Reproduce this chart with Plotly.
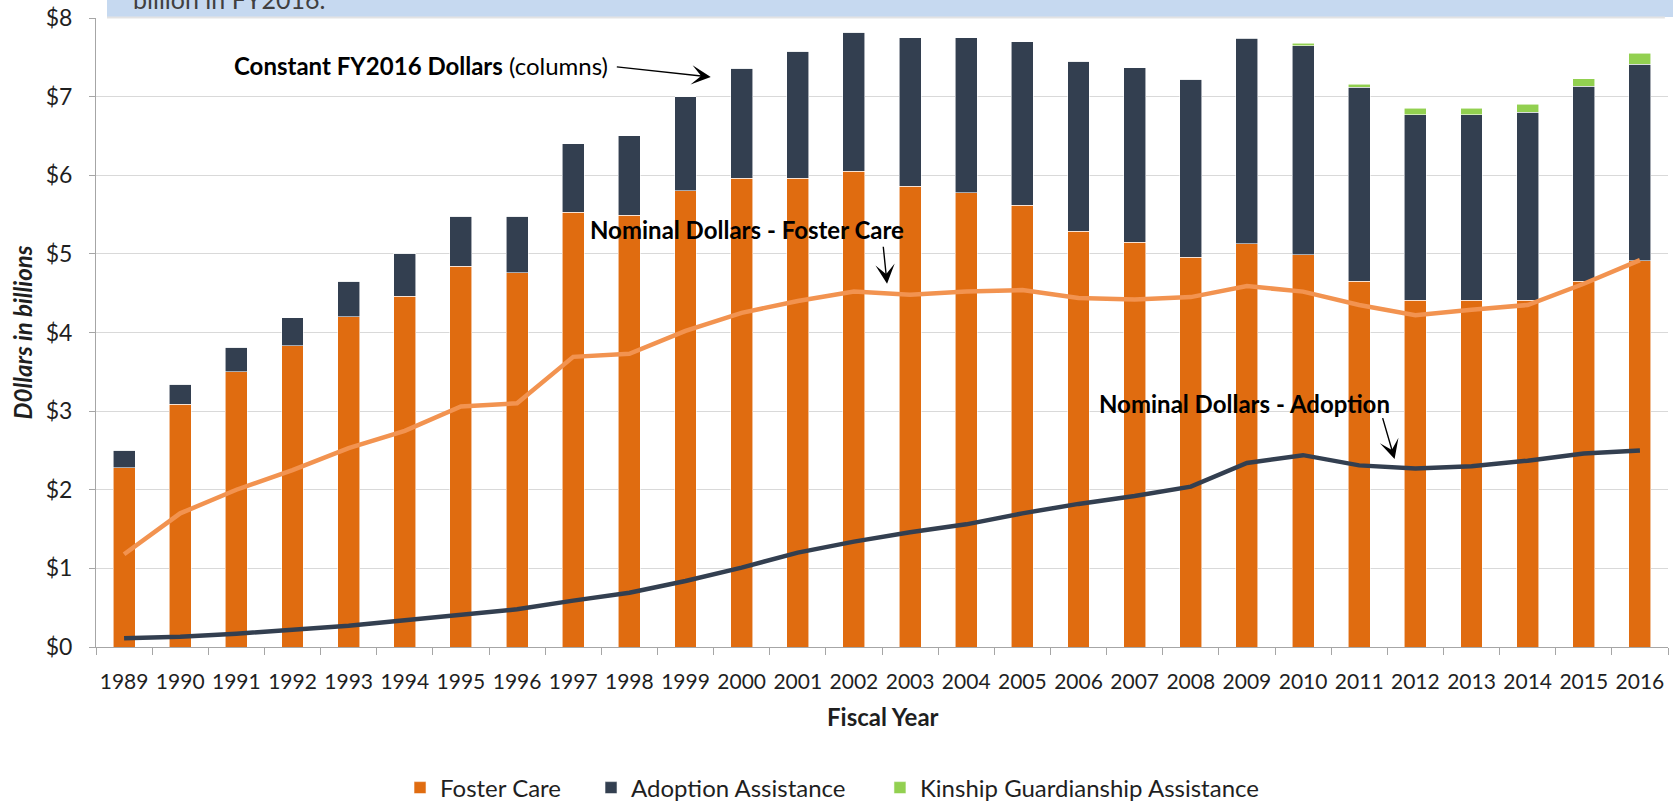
import plotly.graph_objects as go

years = list(range(1989, 2017))
year_labels = [str(y) for y in years]

foster_care = [2.28, 3.09, 3.50, 3.83, 4.20, 4.46, 4.84, 4.76, 5.53, 5.49,
               5.80, 5.96, 5.96, 6.05, 5.86, 5.78, 5.62, 5.29, 5.15, 4.96,
               5.13, 4.99, 4.65, 4.41, 4.41, 4.41, 4.65, 4.91]
adoption_assistance = [0.22, 0.25, 0.31, 0.36, 0.45, 0.55, 0.64, 0.72, 0.87, 1.01,
                       1.20, 1.40, 1.62, 1.77, 1.89, 1.97, 2.08, 2.16, 2.22, 2.26,
                       2.61, 2.66, 2.47, 2.36, 2.36, 2.39, 2.48, 2.50]
kinship_guardianship = [0, 0, 0, 0, 0, 0, 0, 0, 0, 0,
                        0, 0, 0, 0, 0, 0, 0, 0, 0, 0,
                        0.01, 0.03, 0.04, 0.08, 0.08, 0.10, 0.10, 0.14]
nominal_foster_care = [1.18, 1.70, 2.00, 2.25, 2.53, 2.75, 3.06, 3.10, 3.69, 3.73,
                       4.02, 4.25, 4.40, 4.52, 4.48, 4.52, 4.54, 4.44, 4.42, 4.45,
                       4.59, 4.52, 4.35, 4.22, 4.29, 4.35, 4.62, 4.92]
nominal_adoption = [0.11, 0.13, 0.17, 0.22, 0.27, 0.34, 0.41, 0.48, 0.59, 0.69,
                    0.84, 1.01, 1.20, 1.34, 1.46, 1.56, 1.70, 1.82, 1.92, 2.04,
                    2.34, 2.44, 2.31, 2.27, 2.30, 2.37, 2.46, 2.50]
y_ticks = [0, 1, 2, 3, 4, 5, 6, 7, 8]

ORANGE = "#E06C10"
NAVY = "#333F50"
GREEN = "#92D050"
LIGHT_ORANGE = "#F29350"
TEXT = "#1F1F1F"
FONT = "Lato"

fig = go.Figure()
bar_line = dict(color="rgba(255,255,255,0.7)", width=0.8)
fig.add_trace(go.Bar(x=years, y=foster_care, name="Foster Care", legend="legend",
                     marker=dict(color=ORANGE, line=bar_line)))
fig.add_trace(go.Bar(x=years, y=adoption_assistance, name="Adoption Assistance", legend="legend2",
                     marker=dict(color=NAVY, line=bar_line)))
fig.add_trace(go.Bar(x=years, y=kinship_guardianship, name="Kinship Guardianship Assistance",
                     legend="legend3", marker=dict(color=GREEN, line=bar_line)))
fig.add_trace(go.Scatter(x=years, y=nominal_foster_care, mode="lines",
                         line=dict(color=LIGHT_ORANGE, width=4.5), showlegend=False))
fig.add_trace(go.Scatter(x=years, y=nominal_adoption, mode="lines",
                         line=dict(color=NAVY, width=4.5), showlegend=False))

leg_common = dict(orientation="h", y=-0.2242, yanchor="middle", xanchor="left",
                  font=dict(size=24, family=FONT, color=TEXT), bgcolor="rgba(0,0,0,0)",
                  itemwidth=30)
fig.update_layout(
    barmode="stack",
    bargap=0.61,
    width=1673, height=801,
    margin=dict(l=96, r=5, t=18, b=154, autoexpand=False),
    paper_bgcolor="white", plot_bgcolor="white",
    font=dict(family=FONT, color=TEXT),
    legend=dict(x=0.1934, **leg_common),
    legend2=dict(x=0.3149, **leg_common),
    legend3=dict(x=0.4987, **leg_common),
)

fig.update_xaxes(
    automargin=False,
    range=[1988.5, 2016.5],
    tickmode="array", tickvals=years, ticktext=year_labels,
    ticks="outside", ticklen=16, tickcolor="rgba(0,0,0,0)",
    tickfont=dict(size=21, family=FONT, color=TEXT),
    showline=True, linecolor="#A6A6A6", linewidth=1,
    showgrid=False, zeroline=False,
    minor=dict(tickvals=[y - 0.5 for y in years] + [2016.5], ticks="outside",
               ticklen=7, tickcolor="#A6A6A6", showgrid=False),
)
fig.update_yaxes(
    automargin=False,
    range=[0, 8],
    tickmode="array", tickvals=y_ticks, ticktext=["$%d" % v for v in y_ticks],
    ticks="outside", ticklen=6, tickcolor="#A6A6A6", ticklabelstandoff=12,
    tickfont=dict(size=23, family=FONT, color=TEXT),
    showline=True, linecolor="#A6A6A6", linewidth=1,
    showgrid=True, gridcolor="#D9D9D9", gridwidth=1, zeroline=False,
)

# axis titles
fig.add_annotation(xref="paper", yref="paper", x=-0.0465, y=0.5, textangle=-90,
                   xanchor="center", yanchor="middle", showarrow=False,
                   text="<b><i>D0llars in billions</i></b>",
                   font=dict(size=24, family=FONT, color=TEXT))
fig.add_annotation(xref="paper", yref="paper", x=0.5006, y=-0.1097,
                   xanchor="center", yanchor="middle", showarrow=False,
                   text="<b>Fiscal Year</b>", font=dict(size=24, family=FONT, color=TEXT))

# top info box (cut off)
fig.add_shape(type="rect", xref="paper", yref="paper",
              x0=0.007, x1=1.01, y0=1.0016, y1=1.05,
              fillcolor="#C6D9F0", line=dict(width=0), layer="above")
fig.add_shape(type="line", xref="paper", yref="paper",
              x0=0.007, x1=0.998, y0=1.0006, y1=1.0006,
              line=dict(color="#E3E3E3", width=2), layer="above")
fig.add_annotation(xref="paper", yref="paper", x=0.022, y=1.0302,
                   xanchor="left", yanchor="middle", showarrow=False,
                   text="billion in FY2016.", font=dict(size=25, family=FONT, color="#404040"))

# annotations
ANN_FONT = dict(size=24, family=FONT, color="black")
ARROW = dict(text="", showarrow=True, arrowhead=3, arrowsize=2.3, arrowwidth=1.4,
             arrowcolor="black", axref="x", ayref="y")

fig.add_annotation(x=1997.66, y=7.39, xanchor="right", yanchor="middle", showarrow=False,
                   text="<b>Constant FY2016 Dollars</b> (columns)", font=ANN_FONT)
fig.add_annotation(x=1999.45, y=7.25, ax=1997.75, ay=7.38, **ARROW)

fig.add_annotation(x=2000.1, y=5.31, xanchor="center", yanchor="middle", showarrow=False,
                   text="<b>Nominal Dollars - Foster Care</b>", font=ANN_FONT)
fig.add_annotation(x=2002.59, y=4.62, ax=2002.52, ay=5.11, **ARROW)

fig.add_annotation(x=2008.96, y=3.10, xanchor="center", yanchor="middle", showarrow=False,
                   text="<b>Nominal Dollars - Adoption</b>", font=ANN_FONT)
fig.add_annotation(x=2011.63, y=2.39, ax=2011.41, ay=2.93, **ARROW)

fig.write_html("out.html",
               config={"displayModeBar": False},
               post_script="document.body.style.margin='0';document.body.style.overflow='hidden';")
